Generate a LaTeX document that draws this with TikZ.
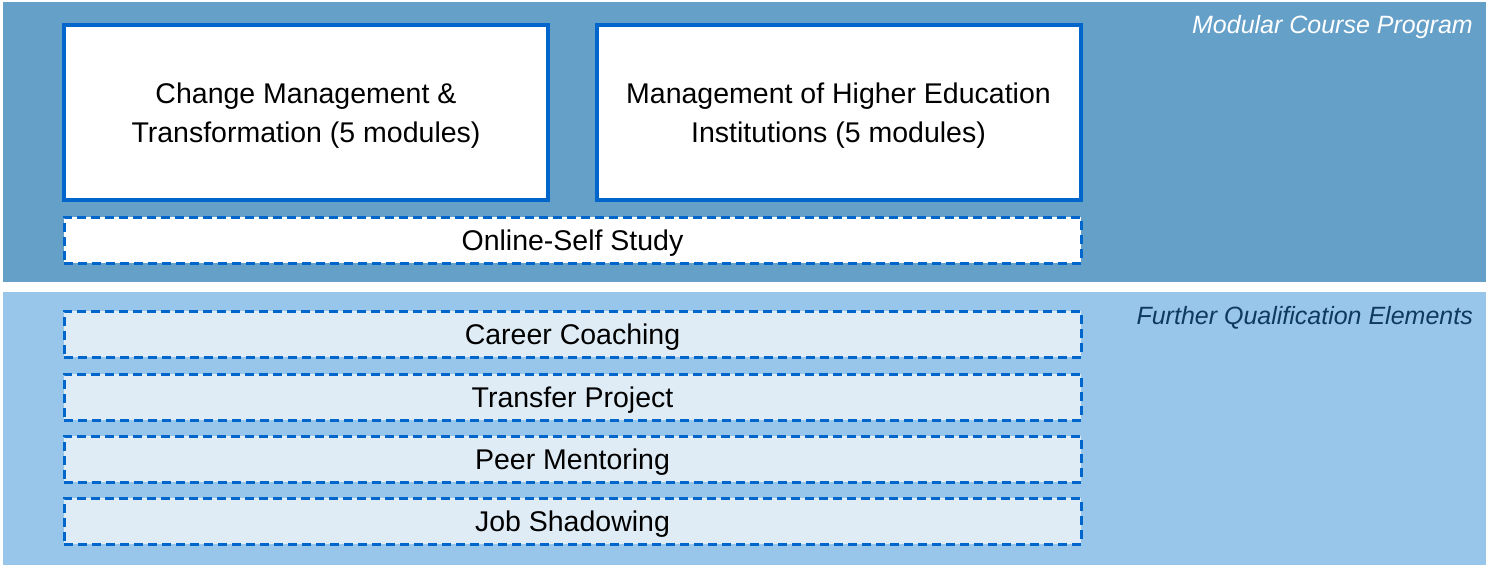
\documentclass[tikz,border=0pt]{standalone}
\usepackage{fontspec}
\setmainfont{Liberation Sans}
\usetikzlibrary{positioning}

\definecolor{programblue}{HTML}{65A0C8}
\definecolor{furtherblue}{HTML}{98C5EA}
\definecolor{lineblue}{HTML}{0066CC}
\definecolor{paleblue}{HTML}{DFECF5}
\definecolor{titleblue}{HTML}{0F3A5F}

\begin{document}
\begin{tikzpicture}[x=1pt, y=-1pt,
        band/.style={inner sep=0pt, minimum width=1483pt},
        module/.style={draw=lineblue, line width=4pt, fill=white, inner sep=0pt,
            minimum width=484pt, minimum height=175pt, align=center, text depth=0pt,
            font=\fontsize{28.5}{39}\selectfont},
        element/.style={draw=lineblue, line width=3pt, dash pattern=on 9pt off 5pt,
            inner sep=0pt, minimum width=1017pt, minimum height=46pt, text depth=0pt,
            font=\fontsize{28.5}{34}\selectfont},
        bandtitle/.style={anchor=east, inner sep=0pt, text depth=0pt,
            font=\fontsize{25}{30}\selectfont\itshape}]
                \useasboundingbox[fill=white] (0,0) rectangle (1489,568);

                % bands
                \node[band, fill=programblue, minimum height=280pt] (program) at (744.5,142) {};
                \node[band, fill=furtherblue, minimum height=273pt] (further) at (744.5,428.5) {};
                \node[bandtitle, text=white] (programtitle) at (1473,24) {Modular Course Program};
                \node[bandtitle, text=titleblue] (furthertitle) at (1473,315) {Further Qualification Elements};

                % modules
                \node[module] (change) at (306,112.5) {Change Management \&\\Transformation (5 modules)};
                \node[module] (hei) at (838.5,112.5) {Management of Higher Education\\Institutions (5 modules)};
                \node[element, fill=white] (online) at (572.5,240) {Online-Self Study};

                % further elements
                \node[element, fill=paleblue] (career) at (572.5,334) {Career Coaching};
                \node[element, fill=paleblue] (transfer) at (572.5,397) {Transfer Project};
                \node[element, fill=paleblue] (peer) at (572.5,459) {Peer Mentoring};
                \node[element, fill=paleblue] (shadow) at (572.5,521) {Job Shadowing};
            \end{tikzpicture}
\end{document}
